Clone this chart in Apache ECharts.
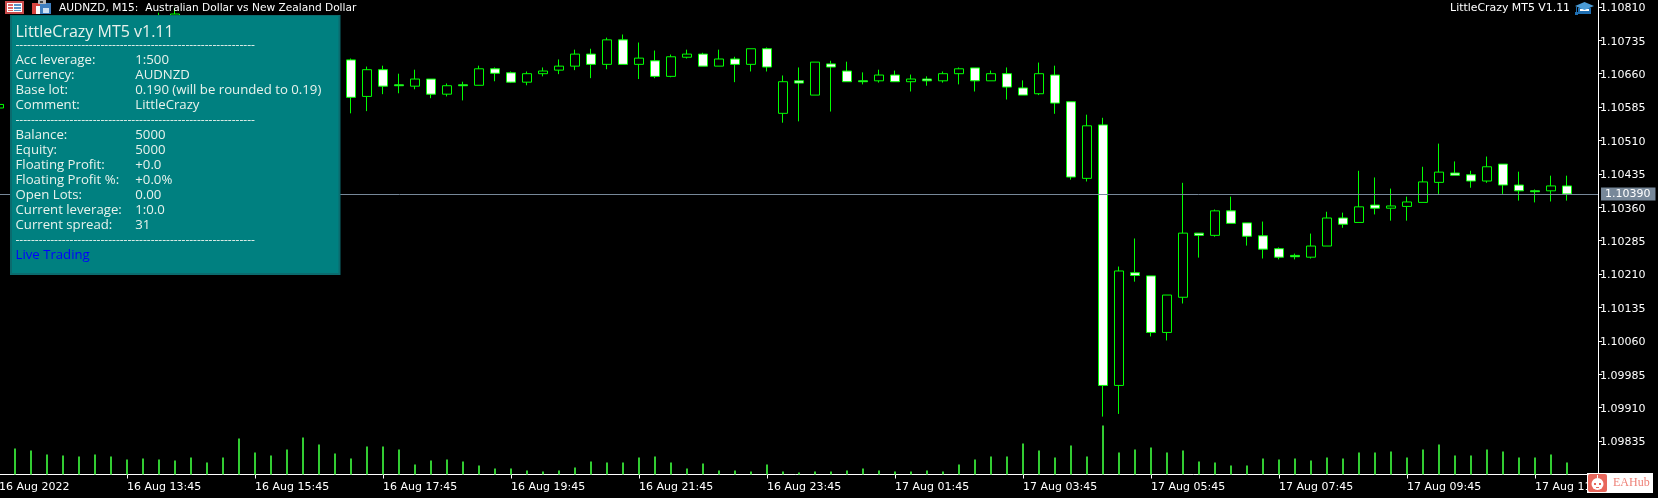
<!DOCTYPE html>
<html><head><meta charset="utf-8">
<style>html,body{margin:0;padding:0;background:#000}#c{width:1658px;height:498px}</style>
<script src="https://cdn.jsdelivr.net/npm/echarts@6/dist/echarts.min.js"></script>
</head><body><div id="c"></div>
<script>
const H=null;
// bars from 16 Aug 11:45 onward, 15 minutes apart (those behind the panel are unknown -> null)
const opens=[1.10583,H,H,H,H,H,H,H,H,H,1.10770,1.10775,H,H,H,H,H,H,H,H,H,1.10687,
1.10691,1.10609,1.10669,1.10635,1.10632,1.10648,1.10614,1.10635,1.10634,1.10671,1.10662,1.10641,1.10660,1.10668,1.10677,1.10704,1.10681,1.10736,1.10681,1.10689,1.10654,1.10697,1.10704,1.10677,1.10693,
1.10681,1.10716,1.10571,1.10644,1.10612,1.10682,1.10666,1.10644,1.10644,1.10657,1.10642,1.10648,1.10644,1.10660,1.10673,1.10644,1.10660,1.10628,1.10615,1.10657,
1.10597,1.10425,1.10545,1.09960,1.10213,1.10206,1.10079,1.10158,1.10302,1.10297,1.10352,1.10325,
1.10296,1.10267,1.10252,1.10248,1.10273,1.10336,1.10326,1.10365,1.10358,1.10362,1.10371,1.10416,1.10437,1.10433,1.10419,1.10457,1.10410,1.10397,1.10397,1.10408];
const closes=[1.10591,H,H,H,H,H,H,H,H,H,1.10780,1.10794,H,H,H,H,H,H,H,H,H,1.10741,
1.10607,1.10669,1.10632,1.10633,1.10648,1.10614,1.10633,1.10633,1.10671,1.10661,1.10641,1.10660,1.10666,1.10677,1.10704,1.10681,1.10736,1.10681,1.10695,1.10654,1.10698,1.10704,1.10677,1.10693,1.10681,
1.10716,1.10675,1.10642,1.10639,1.10686,1.10675,1.10642,1.10642,1.10657,1.10642,1.10648,1.10644,1.10660,1.10671,1.10644,1.10660,1.10630,1.10612,1.10660,1.10594,
1.10428,1.10543,1.09960,1.10217,1.10207,1.10079,1.10163,1.10302,1.10297,1.10352,1.10324,1.10295,
1.10266,1.10248,1.10249,1.10273,1.10336,1.10322,1.10361,1.10358,1.10363,1.10372,1.10417,1.10439,1.10432,1.10419,1.10451,1.10410,1.10397,1.10395,1.10408,1.10390];
const lows=[1.10583,H,H,H,H,H,H,H,H,H,1.10770,1.10775,H,H,H,H,H,H,H,H,H,1.10687,
1.10571,1.10576,1.10614,1.10616,1.10625,1.10605,1.10609,1.10600,1.10634,1.10643,1.10639,1.10634,1.10654,1.10659,1.10668,1.10650,1.10670,1.10681,1.10648,1.10650,1.10652,1.10694,1.10677,1.10677,1.10641,
1.10665,1.10665,1.10550,1.10553,1.10612,1.10575,1.10642,1.10636,1.10640,1.10642,1.10620,1.10633,1.10640,1.10636,1.10620,1.10644,1.10602,1.10612,1.10612,1.10570,
1.10422,1.10418,1.09890,1.09896,1.10193,1.10070,1.10061,1.10144,1.10247,1.10294,1.10324,1.10274,
1.10245,1.10243,1.10243,1.10245,1.10273,1.10314,1.10326,1.10344,1.10330,1.10330,1.10371,1.10390,1.10432,1.10404,1.10415,1.10390,1.10375,1.10371,1.10373,1.10375];
const highs=[1.10591,H,H,H,H,H,H,H,H,H,1.10797,1.10808,H,H,H,H,H,H,H,H,H,1.10741,
1.10694,1.10676,1.10678,1.10660,1.10669,1.10648,1.10638,1.10642,1.10678,1.10674,1.10665,1.10665,1.10674,1.10692,1.10714,1.10716,1.10741,1.10748,1.10730,1.10712,1.10703,1.10714,1.10707,1.10714,1.10698,
1.10716,1.10719,1.10656,1.10674,1.10686,1.10689,1.10687,1.10663,1.10669,1.10667,1.10658,1.10654,1.10665,1.10674,1.10673,1.10667,1.10674,1.10645,1.10685,1.10678,
1.10597,1.10568,1.10561,1.10227,1.10290,1.10206,1.10163,1.10415,1.10302,1.10355,1.10384,1.10325,
1.10328,1.10270,1.10256,1.10301,1.10350,1.10348,1.10442,1.10427,1.10402,1.10384,1.10451,1.10503,1.10463,1.10442,1.10474,1.10457,1.10440,1.10400,1.10431,1.10431];
const volumes=[H,260,240,200,190,180,200,180,150,160,150,140,170,120,170,360,220,190,250,370,300,210,160,280,280,250,100,140,150,130,90,60,60,40,30,40,70,130,120,120,170,180,120,60,110,40,40,30,100,30,20,30,30,40,60,40,30,30,40,30,100,150,180,180,310,240,170,290,180,490,220,250,270,220,240,130,120,90,90,160,150,160,140,170,160,220,220,230,170,250,300,190,190,250,230,170,170,200,120];
const lastPrice=1.10390;
const tickLabels=['16 Aug 2022','16 Aug 13:45','16 Aug 15:45','16 Aug 17:45','16 Aug 19:45','16 Aug 21:45','16 Aug 23:45','17 Aug 01:45','17 Aug 03:45','17 Aug 05:45','17 Aug 07:45','17 Aug 09:45','17 Aug 11:45'];
const panelLeft=['Acc leverage:','Currency:','Base lot:','Comment:','','Balance:','Equity:','Floating Profit:','Floating Profit %:','Open Lots:','Current leverage:','Current spread:'];
const panelRight=['1:500','AUDNZD','0.190 (will be rounded to 0.19)','LittleCrazy','','5000','5000','+0.0','+0.0%','0.00','1:0.0','31'];

const categories=[];
for(let i=0;i<100;i++)categories.push(i%8===0?tickLabels[i/8]:'');
const candles=opens.map((o,i)=>o===null?['-','-','-','-']:[o,closes[i],lows[i],highs[i]]);

const UI='"DejaVu Sans"',PF='"Open Sans"';
const g=[];
const r=(x,y,w,h,fill,z=50)=>g.push({type:'rect',z,silent:true,shape:{x,y,width:w,height:h},style:{fill}});
const t=(x,y,text,fill,font,size,align='left',z=60,extra={})=>g.push({type:'text',z,silent:true,x,y,style:{text,fill,fontFamily:font,fontSize:size,align,verticalAlign:'middle',...extra}});
const p=(pts,fill,z=55)=>g.push({type:'polygon',z,silent:true,shape:{points:pts},style:{fill}});

// info panel
r(10,15,330.5,260,'#0b6b6e',50);
r(12,16,326.5,257,'#008080',51);
const PC='#e8f2ec';
t(15.5,32,'LittleCrazy MT5 v1.11',PC,PF,16);
const dash='-'.repeat(62);
[46,120.5,241].forEach(y=>t(15.5,y,dash,PC,PF,12));
panelLeft.forEach((s,i)=>{ if(!s)return; const y=60.5+15*i; t(15.5,y,s,PC,PF,13.2); t(135.3,y,panelRight[i],PC,PF,13.2); });
t(15.5,255.5,'Live Trading','#0000ff',PF,13.2);

// header
t(59,8,'AUDNZD, M15:  Australian Dollar vs New Zealand Dollar','#ffffff',UI,10.6);
t(1570,8.5,'LittleCrazy MT5 V1.11','#ffffff',UI,10.9,'right');
// toolbar icons
r(5,1,19,13,'#c94a4a');r(7,3,15,9,'#ffffff');r(8,4,5,2,'#d66');r(14,4,7,2,'#5a94c8');r(8,7,5,2,'#d66');r(14,7,7,2,'#5a94c8');r(8,10,5,1,'#d66');r(14,10,7,1,'#5a94c8');
r(32,3,8,11,'#d8453f');r(40,3,11,11,'#3f7fbf');r(38,0,8,4,'#bbbbbb');r(40,1,3,2,'#444444');r(36,6,4,8,'#ffffff');r(43,8,6,5,'#cfe2f3');
// cap icon
r(1578,8,13,6,'#1f6fb2');r(1580,9,9,2,'#ffffff');
p([[1575,6],[1584.5,2],[1594,6],[1584.5,10]],'#4a9ad4');
r(1576,7,1,6,'#1f6fb2');r(1575,12,3,3,'#1f6fb2');
// watermark
r(1587,473,66,20,'#ffffff',70);
g.push({type:'rect',z:71,silent:true,shape:{x:1588,y:474,width:19,height:18,r:2},style:{fill:'#e8675c'}});
g.push({type:'circle',z:72,silent:true,shape:{cx:1597.5,cy:484,r:6},style:{fill:'#ffffff'}});
r(1594,483,2,2,'#e8675c',73);r(1599,483,2,2,'#e8675c',73);r(1596,487,3,1,'#e8675c',73);
r(1597,475,1,3,'#ffffff',72);
t(1613,483,'EAHub','#ee8076','"Liberation Serif"',12,'left',72);

const option={
 animation:false,backgroundColor:'#000',
 grid:[{left:-9,top:0,width:1600,height:474.5,outerBoundsMode:'none'},{left:-9,top:414.5,width:1600,height:60,outerBoundsMode:'none'}],
 xAxis:[
  {type:'category',gridIndex:0,data:categories,boundaryGap:true,
   axisLine:{show:true,lineStyle:{color:'#fff',width:1}},
   axisTick:{show:true,alignWithLabel:true,interval:7,length:4,lineStyle:{color:'#fff'}},
   axisLabel:{show:true,interval:7,color:'#fff',fontFamily:UI,fontSize:11,align:'left',margin:7,hideOverlap:false},
   splitLine:{show:false}},
  {type:'category',gridIndex:1,data:categories,show:false}],
 yAxis:[
  {type:'value',gridIndex:0,position:'right',offset:7,min:1.0976,max:1.108255,interval:0.00075,scale:true,
   axisLine:{show:true,lineStyle:{color:'#fff',width:1}},
   axisTick:{show:true,length:4,lineStyle:{color:'#fff'}},
   axisLabel:{color:'#fff',fontFamily:UI,fontSize:11,margin:2,showMinLabel:false,showMaxLabel:false,
    formatter:v=>'{p|'+v.toFixed(5)+'}',
    rich:{p:{color:'#fff',fontFamily:UI,fontSize:11,padding:[3,0,0,0]}}},
   splitLine:{show:false}},
  {type:'value',gridIndex:1,min:0,max:600,show:false,splitLine:{show:false}}],
 series:[
  {type:'bar',xAxisIndex:1,yAxisIndex:1,data:volumes,barWidth:2,itemStyle:{color:'#32cd32'},silent:true},
  {type:'candlestick',xAxisIndex:0,yAxisIndex:0,data:candles,barWidth:10,silent:true,
   itemStyle:{color:'#000000',color0:'#ffffff',borderColor:'#00ff00',borderColor0:'#00ff00',borderColorDoji:'#00ff00',borderWidth:1},
   markLine:{silent:true,symbol:'none',animation:false,
    lineStyle:{color:'#778899',width:1,type:'solid'},
    label:{show:true,position:'end',distance:3,formatter:lastPrice.toFixed(5),color:'#fff',backgroundColor:'#778899',fontFamily:UI,fontSize:11,padding:[2,5,0,4]},
    data:[[{x:0,yAxis:lastPrice},{x:1598,yAxis:lastPrice}]]}}],
 graphic:g
};
const chart=echarts.init(document.getElementById('c'),null,{renderer:'canvas'});
chart.setOption(option);
</script></body></html>
